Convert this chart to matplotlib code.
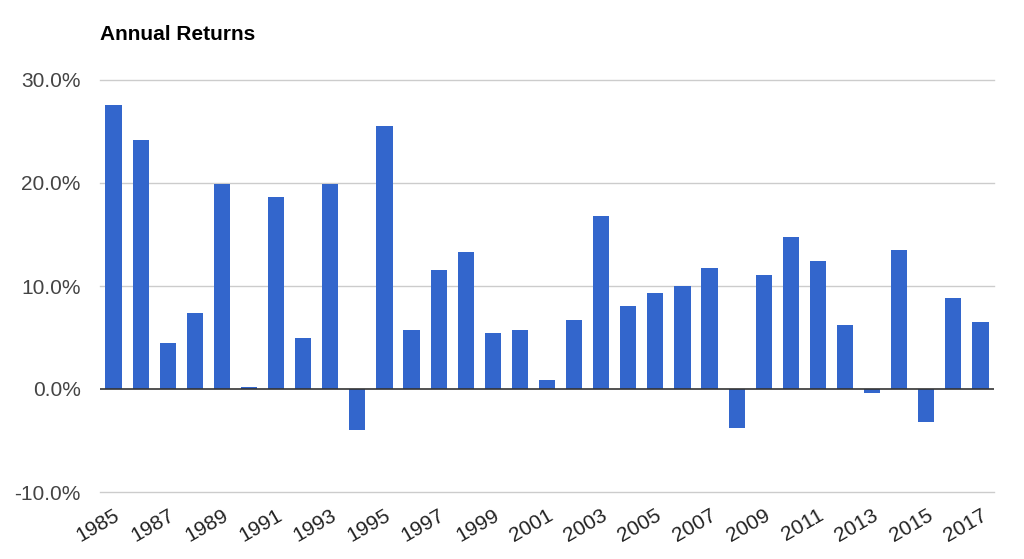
import matplotlib
matplotlib.use("Agg")
import matplotlib.pyplot as plt
import numpy as np

plt.rcParams['font.family'] = ['Liberation Sans', 'DejaVu Sans']

# annual returns (percent)
years = list(range(1985, 2018))
returns = [27.6, 24.2, 4.5, 7.4, 19.9, 0.2, 18.6, 5.0, 19.9, -4.0,
           25.5, 5.7, 11.6, 13.3, 5.4, 5.7, 0.9, 6.7, 16.8, 8.1,
           9.3, 10.0, 11.7, -3.8, 11.1, 14.8, 12.4, 6.2, -0.4, 13.5,
           -3.2, 8.8, 6.5]
yticks = [-10, 0, 10, 20, 30]

fig = plt.figure(figsize=(10.24, 5.59), dpi=100)
ax = fig.add_axes([100/1024, 1-492/559, 894/1024, 412/559])

x = np.arange(len(years))
ax.bar(x, returns, width=0.6, color='#3366cc', zorder=3)

ax.set_xlim(-0.5, len(years) - 0.5)
ax.set_ylim(-10, 30)
ax.set_yticks(yticks)
ax.set_yticklabels(['%.1f%%' % v for v in yticks])
#gridlines (drawn unclipped so the -10% line shows)
for v in yticks:
    if v != 0:
        ax.axhline(v, color='#cccccc', linewidth=1, zorder=0, clip_on=False)
ax.axhline(0, color='#333333', linewidth=1.2, zorder=4)

#every other year, slanted
ax.set_xticks(x[::2])
ax.set_xticklabels([str(y) for y in years[::2]], rotation=30, ha='right',
                   rotation_mode='anchor')

for s in ax.spines.values():
    s.set_visible(False)
ax.tick_params(axis='both', length=0, labelsize=15)
ax.tick_params(axis='y', pad=14, labelcolor='#444444')
ax.tick_params(axis='x', pad=10, labelcolor='#222222')

fig.text(100/1024, 1-35/559, 'Annual Returns', fontsize=15, fontweight='bold',
         color='#000000', va='center', ha='left')

fig.savefig('out.png', dpi=100)
